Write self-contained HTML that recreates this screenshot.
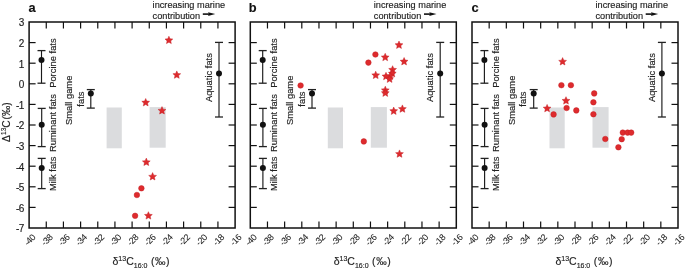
<!DOCTYPE html>
<html><head><meta charset="utf-8"><style>
html,body{margin:0;padding:0;background:#fff;width:685px;height:269px;overflow:hidden}
svg{display:block;font-family:"Liberation Sans",sans-serif;will-change:transform}
text{stroke:#222;stroke-width:0.15px}
</style></head><body>
<svg width="685" height="269" viewBox="0 0 685 269" font-family="Liberation Sans, sans-serif">
<rect width="685" height="269" fill="#fff"/>
<rect x="106.60" y="107.5" width="15.2" height="40.8" fill="#dbdcde"/>
<rect x="149.60" y="107.1" width="16.1" height="40.6" fill="#dbdcde"/>
<rect x="29.1" y="22.0" width="206.0" height="206.0" fill="none" stroke="#111" stroke-width="1.5"/>
<line x1="46.27" y1="228.0" x2="46.27" y2="221.5" stroke="#111" stroke-width="1.2"/>
<line x1="46.27" y1="22.0" x2="46.27" y2="28.5" stroke="#111" stroke-width="1.2"/>
<line x1="63.43" y1="228.0" x2="63.43" y2="221.5" stroke="#111" stroke-width="1.2"/>
<line x1="63.43" y1="22.0" x2="63.43" y2="28.5" stroke="#111" stroke-width="1.2"/>
<line x1="80.60" y1="228.0" x2="80.60" y2="221.5" stroke="#111" stroke-width="1.2"/>
<line x1="80.60" y1="22.0" x2="80.60" y2="28.5" stroke="#111" stroke-width="1.2"/>
<line x1="97.77" y1="228.0" x2="97.77" y2="221.5" stroke="#111" stroke-width="1.2"/>
<line x1="97.77" y1="22.0" x2="97.77" y2="28.5" stroke="#111" stroke-width="1.2"/>
<line x1="114.93" y1="228.0" x2="114.93" y2="221.5" stroke="#111" stroke-width="1.2"/>
<line x1="114.93" y1="22.0" x2="114.93" y2="28.5" stroke="#111" stroke-width="1.2"/>
<line x1="132.10" y1="228.0" x2="132.10" y2="221.5" stroke="#111" stroke-width="1.2"/>
<line x1="132.10" y1="22.0" x2="132.10" y2="28.5" stroke="#111" stroke-width="1.2"/>
<line x1="149.27" y1="228.0" x2="149.27" y2="221.5" stroke="#111" stroke-width="1.2"/>
<line x1="149.27" y1="22.0" x2="149.27" y2="28.5" stroke="#111" stroke-width="1.2"/>
<line x1="166.43" y1="228.0" x2="166.43" y2="221.5" stroke="#111" stroke-width="1.2"/>
<line x1="166.43" y1="22.0" x2="166.43" y2="28.5" stroke="#111" stroke-width="1.2"/>
<line x1="183.60" y1="228.0" x2="183.60" y2="221.5" stroke="#111" stroke-width="1.2"/>
<line x1="183.60" y1="22.0" x2="183.60" y2="28.5" stroke="#111" stroke-width="1.2"/>
<line x1="200.77" y1="228.0" x2="200.77" y2="221.5" stroke="#111" stroke-width="1.2"/>
<line x1="200.77" y1="22.0" x2="200.77" y2="28.5" stroke="#111" stroke-width="1.2"/>
<line x1="217.93" y1="228.0" x2="217.93" y2="221.5" stroke="#111" stroke-width="1.2"/>
<line x1="217.93" y1="22.0" x2="217.93" y2="28.5" stroke="#111" stroke-width="1.2"/>
<line x1="29.1" y1="207.40" x2="35.6" y2="207.40" stroke="#111" stroke-width="1.2"/>
<line x1="235.1" y1="207.40" x2="228.6" y2="207.40" stroke="#111" stroke-width="1.2"/>
<line x1="29.1" y1="186.80" x2="35.6" y2="186.80" stroke="#111" stroke-width="1.2"/>
<line x1="235.1" y1="186.80" x2="228.6" y2="186.80" stroke="#111" stroke-width="1.2"/>
<line x1="29.1" y1="166.20" x2="35.6" y2="166.20" stroke="#111" stroke-width="1.2"/>
<line x1="235.1" y1="166.20" x2="228.6" y2="166.20" stroke="#111" stroke-width="1.2"/>
<line x1="29.1" y1="145.60" x2="35.6" y2="145.60" stroke="#111" stroke-width="1.2"/>
<line x1="235.1" y1="145.60" x2="228.6" y2="145.60" stroke="#111" stroke-width="1.2"/>
<line x1="29.1" y1="125.00" x2="35.6" y2="125.00" stroke="#111" stroke-width="1.2"/>
<line x1="235.1" y1="125.00" x2="228.6" y2="125.00" stroke="#111" stroke-width="1.2"/>
<line x1="29.1" y1="104.40" x2="35.6" y2="104.40" stroke="#111" stroke-width="1.2"/>
<line x1="235.1" y1="104.40" x2="228.6" y2="104.40" stroke="#111" stroke-width="1.2"/>
<line x1="29.1" y1="83.80" x2="35.6" y2="83.80" stroke="#111" stroke-width="1.2"/>
<line x1="235.1" y1="83.80" x2="228.6" y2="83.80" stroke="#111" stroke-width="1.2"/>
<line x1="29.1" y1="63.20" x2="35.6" y2="63.20" stroke="#111" stroke-width="1.2"/>
<line x1="235.1" y1="63.20" x2="228.6" y2="63.20" stroke="#111" stroke-width="1.2"/>
<line x1="29.1" y1="42.60" x2="35.6" y2="42.60" stroke="#111" stroke-width="1.2"/>
<line x1="235.1" y1="42.60" x2="228.6" y2="42.60" stroke="#111" stroke-width="1.2"/>
<text x="0" y="0" transform="translate(29.70,240) rotate(-45)" text-anchor="middle" dominant-baseline="central" font-size="9" letter-spacing="-0.4" style="stroke-width:0.05px" fill="#222">-40</text>
<text x="0" y="0" transform="translate(46.87,240) rotate(-45)" text-anchor="middle" dominant-baseline="central" font-size="9" letter-spacing="-0.4" style="stroke-width:0.05px" fill="#222">-38</text>
<text x="0" y="0" transform="translate(64.03,240) rotate(-45)" text-anchor="middle" dominant-baseline="central" font-size="9" letter-spacing="-0.4" style="stroke-width:0.05px" fill="#222">-36</text>
<text x="0" y="0" transform="translate(81.20,240) rotate(-45)" text-anchor="middle" dominant-baseline="central" font-size="9" letter-spacing="-0.4" style="stroke-width:0.05px" fill="#222">-34</text>
<text x="0" y="0" transform="translate(98.37,240) rotate(-45)" text-anchor="middle" dominant-baseline="central" font-size="9" letter-spacing="-0.4" style="stroke-width:0.05px" fill="#222">-32</text>
<text x="0" y="0" transform="translate(115.53,240) rotate(-45)" text-anchor="middle" dominant-baseline="central" font-size="9" letter-spacing="-0.4" style="stroke-width:0.05px" fill="#222">-30</text>
<text x="0" y="0" transform="translate(132.70,240) rotate(-45)" text-anchor="middle" dominant-baseline="central" font-size="9" letter-spacing="-0.4" style="stroke-width:0.05px" fill="#222">-28</text>
<text x="0" y="0" transform="translate(149.87,240) rotate(-45)" text-anchor="middle" dominant-baseline="central" font-size="9" letter-spacing="-0.4" style="stroke-width:0.05px" fill="#222">-26</text>
<text x="0" y="0" transform="translate(167.03,240) rotate(-45)" text-anchor="middle" dominant-baseline="central" font-size="9" letter-spacing="-0.4" style="stroke-width:0.05px" fill="#222">-24</text>
<text x="0" y="0" transform="translate(184.20,240) rotate(-45)" text-anchor="middle" dominant-baseline="central" font-size="9" letter-spacing="-0.4" style="stroke-width:0.05px" fill="#222">-22</text>
<text x="0" y="0" transform="translate(201.37,240) rotate(-45)" text-anchor="middle" dominant-baseline="central" font-size="9" letter-spacing="-0.4" style="stroke-width:0.05px" fill="#222">-20</text>
<text x="0" y="0" transform="translate(218.53,240) rotate(-45)" text-anchor="middle" dominant-baseline="central" font-size="9" letter-spacing="-0.4" style="stroke-width:0.05px" fill="#222">-18</text>
<text x="0" y="0" transform="translate(235.70,240) rotate(-45)" text-anchor="middle" dominant-baseline="central" font-size="9" letter-spacing="-0.4" style="stroke-width:0.05px" fill="#222">-16</text>
<text x="112.50" y="264.7" font-size="10.5" fill="#222">&#948;<tspan font-size="7" dy="-4.2">13</tspan><tspan dy="4.2">C</tspan><tspan font-size="7" dy="3.5">16:0</tspan><tspan dy="-3.5" letter-spacing="0.6"> (&#8240;)</tspan></text>
<text x="28.6" y="11.6" font-size="12.8" font-weight="bold" fill="#111">a</text>
<text x="152.60" y="7.8" font-size="9.2" fill="#222">increasing marine</text>
<text x="152.60" y="18.6" font-size="9.2" fill="#222">contribution</text>
<line x1="202.80" y1="14.1" x2="209.80" y2="14.1" stroke="#111" stroke-width="1.6"/>
<polygon points="215.30,14.1 208.00,12.2 209.00,14.1 208.00,16" fill="#111"/>
<line x1="41.5" y1="50.6" x2="41.5" y2="83.2" stroke="#1a1a1a" stroke-width="1.15"/><line x1="37.5" y1="50.6" x2="45.5" y2="50.6" stroke="#222" stroke-width="1.3"/><line x1="37.5" y1="83.2" x2="45.5" y2="83.2" stroke="#222" stroke-width="1.3"/><circle cx="41.5" cy="60" r="3.0" fill="#111"/>
<line x1="41.7" y1="108.4" x2="41.7" y2="146.6" stroke="#1a1a1a" stroke-width="1.15"/><line x1="37.7" y1="108.4" x2="45.7" y2="108.4" stroke="#222" stroke-width="1.3"/><line x1="37.7" y1="146.6" x2="45.7" y2="146.6" stroke="#222" stroke-width="1.3"/><circle cx="41.7" cy="124.8" r="3.0" fill="#111"/>
<line x1="41.7" y1="158.4" x2="41.7" y2="188.6" stroke="#1a1a1a" stroke-width="1.15"/><line x1="37.7" y1="158.4" x2="45.7" y2="158.4" stroke="#222" stroke-width="1.3"/><line x1="37.7" y1="188.6" x2="45.7" y2="188.6" stroke="#222" stroke-width="1.3"/><circle cx="41.7" cy="168.1" r="3.0" fill="#111"/>
<line x1="90.8" y1="89.6" x2="90.8" y2="108.1" stroke="#1a1a1a" stroke-width="1.15"/><line x1="86.8" y1="89.6" x2="94.8" y2="89.6" stroke="#222" stroke-width="1.3"/><line x1="86.8" y1="108.1" x2="94.8" y2="108.1" stroke="#222" stroke-width="1.3"/><circle cx="90.8" cy="93.4" r="3.0" fill="#111"/>
<line x1="219.0" y1="42.4" x2="219.0" y2="117" stroke="#1a1a1a" stroke-width="1.15"/><line x1="215.0" y1="42.4" x2="223.0" y2="42.4" stroke="#222" stroke-width="1.3"/><line x1="215.0" y1="117" x2="223.0" y2="117" stroke="#222" stroke-width="1.3"/><circle cx="219.0" cy="73.5" r="3.0" fill="#111"/>
<text x="0" y="0" transform="translate(56.0,63.1) rotate(-90)" text-anchor="middle" font-size="9.4" fill="#222">Porcine fats</text>
<text x="0" y="0" transform="translate(56.0,123) rotate(-90)" text-anchor="middle" font-size="9.4" fill="#222">Ruminant fats</text>
<text x="0" y="0" transform="translate(56.2,173.8) rotate(-90)" text-anchor="middle" font-size="9.4" fill="#222">Milk fats</text>
<text x="0" y="0" transform="translate(71.6,100.35) rotate(-90)" text-anchor="middle" font-size="9.4" fill="#222">Small game</text>
<text x="0" y="0" transform="translate(83.5,99.1) rotate(-90)" text-anchor="middle" font-size="9.4" fill="#222">fats</text>
<text x="0" y="0" transform="translate(211.8,77.6) rotate(-90)" text-anchor="middle" font-size="9.4" fill="#222">Aquatic fats</text>
<polygon points="145.70,98.50 146.83,101.04 149.60,101.33 147.53,103.20 148.11,105.92 145.70,104.53 143.29,105.92 143.87,103.20 141.80,101.33 144.57,101.04" fill="#de2b2d" stroke="#c21d24" stroke-width="0.45" stroke-linejoin="round"/>
<polygon points="162.00,106.60 163.13,109.14 165.90,109.43 163.83,111.30 164.41,114.02 162.00,112.63 159.59,114.02 160.17,111.30 158.10,109.43 160.87,109.14" fill="#de2b2d" stroke="#c21d24" stroke-width="0.45" stroke-linejoin="round"/>
<polygon points="168.90,36.20 170.03,38.74 172.80,39.03 170.73,40.90 171.31,43.62 168.90,42.23 166.49,43.62 167.07,40.90 165.00,39.03 167.77,38.74" fill="#de2b2d" stroke="#c21d24" stroke-width="0.45" stroke-linejoin="round"/>
<polygon points="176.80,70.90 177.93,73.44 180.70,73.73 178.63,75.60 179.21,78.32 176.80,76.93 174.39,78.32 174.97,75.60 172.90,73.73 175.67,73.44" fill="#de2b2d" stroke="#c21d24" stroke-width="0.45" stroke-linejoin="round"/>
<polygon points="146.30,158.10 147.43,160.64 150.20,160.93 148.13,162.80 148.71,165.52 146.30,164.13 143.89,165.52 144.47,162.80 142.40,160.93 145.17,160.64" fill="#de2b2d" stroke="#c21d24" stroke-width="0.45" stroke-linejoin="round"/>
<polygon points="152.60,172.60 153.73,175.14 156.50,175.43 154.43,177.30 155.01,180.02 152.60,178.63 150.19,180.02 150.77,177.30 148.70,175.43 151.47,175.14" fill="#de2b2d" stroke="#c21d24" stroke-width="0.45" stroke-linejoin="round"/>
<circle cx="141.40" cy="188.30" r="2.8" fill="#de2b2d" stroke="#c21d24" stroke-width="0.45"/>
<circle cx="136.90" cy="195.00" r="2.8" fill="#de2b2d" stroke="#c21d24" stroke-width="0.45"/>
<circle cx="135.10" cy="215.80" r="2.8" fill="#de2b2d" stroke="#c21d24" stroke-width="0.45"/>
<polygon points="148.40,211.70 149.53,214.24 152.30,214.53 150.23,216.40 150.81,219.12 148.40,217.73 145.99,219.12 146.57,216.40 144.50,214.53 147.27,214.24" fill="#de2b2d" stroke="#c21d24" stroke-width="0.45" stroke-linejoin="round"/>
<rect x="327.80" y="107.5" width="15.2" height="40.8" fill="#dbdcde"/>
<rect x="370.80" y="107.1" width="16.1" height="40.6" fill="#dbdcde"/>
<rect x="250.3" y="22.0" width="206.0" height="206.0" fill="none" stroke="#111" stroke-width="1.5"/>
<line x1="267.47" y1="228.0" x2="267.47" y2="221.5" stroke="#111" stroke-width="1.2"/>
<line x1="267.47" y1="22.0" x2="267.47" y2="28.5" stroke="#111" stroke-width="1.2"/>
<line x1="284.63" y1="228.0" x2="284.63" y2="221.5" stroke="#111" stroke-width="1.2"/>
<line x1="284.63" y1="22.0" x2="284.63" y2="28.5" stroke="#111" stroke-width="1.2"/>
<line x1="301.80" y1="228.0" x2="301.80" y2="221.5" stroke="#111" stroke-width="1.2"/>
<line x1="301.80" y1="22.0" x2="301.80" y2="28.5" stroke="#111" stroke-width="1.2"/>
<line x1="318.97" y1="228.0" x2="318.97" y2="221.5" stroke="#111" stroke-width="1.2"/>
<line x1="318.97" y1="22.0" x2="318.97" y2="28.5" stroke="#111" stroke-width="1.2"/>
<line x1="336.13" y1="228.0" x2="336.13" y2="221.5" stroke="#111" stroke-width="1.2"/>
<line x1="336.13" y1="22.0" x2="336.13" y2="28.5" stroke="#111" stroke-width="1.2"/>
<line x1="353.30" y1="228.0" x2="353.30" y2="221.5" stroke="#111" stroke-width="1.2"/>
<line x1="353.30" y1="22.0" x2="353.30" y2="28.5" stroke="#111" stroke-width="1.2"/>
<line x1="370.47" y1="228.0" x2="370.47" y2="221.5" stroke="#111" stroke-width="1.2"/>
<line x1="370.47" y1="22.0" x2="370.47" y2="28.5" stroke="#111" stroke-width="1.2"/>
<line x1="387.63" y1="228.0" x2="387.63" y2="221.5" stroke="#111" stroke-width="1.2"/>
<line x1="387.63" y1="22.0" x2="387.63" y2="28.5" stroke="#111" stroke-width="1.2"/>
<line x1="404.80" y1="228.0" x2="404.80" y2="221.5" stroke="#111" stroke-width="1.2"/>
<line x1="404.80" y1="22.0" x2="404.80" y2="28.5" stroke="#111" stroke-width="1.2"/>
<line x1="421.97" y1="228.0" x2="421.97" y2="221.5" stroke="#111" stroke-width="1.2"/>
<line x1="421.97" y1="22.0" x2="421.97" y2="28.5" stroke="#111" stroke-width="1.2"/>
<line x1="439.13" y1="228.0" x2="439.13" y2="221.5" stroke="#111" stroke-width="1.2"/>
<line x1="439.13" y1="22.0" x2="439.13" y2="28.5" stroke="#111" stroke-width="1.2"/>
<line x1="250.3" y1="207.40" x2="256.8" y2="207.40" stroke="#111" stroke-width="1.2"/>
<line x1="456.3" y1="207.40" x2="449.8" y2="207.40" stroke="#111" stroke-width="1.2"/>
<line x1="250.3" y1="186.80" x2="256.8" y2="186.80" stroke="#111" stroke-width="1.2"/>
<line x1="456.3" y1="186.80" x2="449.8" y2="186.80" stroke="#111" stroke-width="1.2"/>
<line x1="250.3" y1="166.20" x2="256.8" y2="166.20" stroke="#111" stroke-width="1.2"/>
<line x1="456.3" y1="166.20" x2="449.8" y2="166.20" stroke="#111" stroke-width="1.2"/>
<line x1="250.3" y1="145.60" x2="256.8" y2="145.60" stroke="#111" stroke-width="1.2"/>
<line x1="456.3" y1="145.60" x2="449.8" y2="145.60" stroke="#111" stroke-width="1.2"/>
<line x1="250.3" y1="125.00" x2="256.8" y2="125.00" stroke="#111" stroke-width="1.2"/>
<line x1="456.3" y1="125.00" x2="449.8" y2="125.00" stroke="#111" stroke-width="1.2"/>
<line x1="250.3" y1="104.40" x2="256.8" y2="104.40" stroke="#111" stroke-width="1.2"/>
<line x1="456.3" y1="104.40" x2="449.8" y2="104.40" stroke="#111" stroke-width="1.2"/>
<line x1="250.3" y1="83.80" x2="256.8" y2="83.80" stroke="#111" stroke-width="1.2"/>
<line x1="456.3" y1="83.80" x2="449.8" y2="83.80" stroke="#111" stroke-width="1.2"/>
<line x1="250.3" y1="63.20" x2="256.8" y2="63.20" stroke="#111" stroke-width="1.2"/>
<line x1="456.3" y1="63.20" x2="449.8" y2="63.20" stroke="#111" stroke-width="1.2"/>
<line x1="250.3" y1="42.60" x2="256.8" y2="42.60" stroke="#111" stroke-width="1.2"/>
<line x1="456.3" y1="42.60" x2="449.8" y2="42.60" stroke="#111" stroke-width="1.2"/>
<text x="0" y="0" transform="translate(250.90,240) rotate(-45)" text-anchor="middle" dominant-baseline="central" font-size="9" letter-spacing="-0.4" style="stroke-width:0.05px" fill="#222">-40</text>
<text x="0" y="0" transform="translate(268.07,240) rotate(-45)" text-anchor="middle" dominant-baseline="central" font-size="9" letter-spacing="-0.4" style="stroke-width:0.05px" fill="#222">-38</text>
<text x="0" y="0" transform="translate(285.23,240) rotate(-45)" text-anchor="middle" dominant-baseline="central" font-size="9" letter-spacing="-0.4" style="stroke-width:0.05px" fill="#222">-36</text>
<text x="0" y="0" transform="translate(302.40,240) rotate(-45)" text-anchor="middle" dominant-baseline="central" font-size="9" letter-spacing="-0.4" style="stroke-width:0.05px" fill="#222">-34</text>
<text x="0" y="0" transform="translate(319.57,240) rotate(-45)" text-anchor="middle" dominant-baseline="central" font-size="9" letter-spacing="-0.4" style="stroke-width:0.05px" fill="#222">-32</text>
<text x="0" y="0" transform="translate(336.73,240) rotate(-45)" text-anchor="middle" dominant-baseline="central" font-size="9" letter-spacing="-0.4" style="stroke-width:0.05px" fill="#222">-30</text>
<text x="0" y="0" transform="translate(353.90,240) rotate(-45)" text-anchor="middle" dominant-baseline="central" font-size="9" letter-spacing="-0.4" style="stroke-width:0.05px" fill="#222">-28</text>
<text x="0" y="0" transform="translate(371.07,240) rotate(-45)" text-anchor="middle" dominant-baseline="central" font-size="9" letter-spacing="-0.4" style="stroke-width:0.05px" fill="#222">-26</text>
<text x="0" y="0" transform="translate(388.23,240) rotate(-45)" text-anchor="middle" dominant-baseline="central" font-size="9" letter-spacing="-0.4" style="stroke-width:0.05px" fill="#222">-24</text>
<text x="0" y="0" transform="translate(405.40,240) rotate(-45)" text-anchor="middle" dominant-baseline="central" font-size="9" letter-spacing="-0.4" style="stroke-width:0.05px" fill="#222">-22</text>
<text x="0" y="0" transform="translate(422.57,240) rotate(-45)" text-anchor="middle" dominant-baseline="central" font-size="9" letter-spacing="-0.4" style="stroke-width:0.05px" fill="#222">-20</text>
<text x="0" y="0" transform="translate(439.73,240) rotate(-45)" text-anchor="middle" dominant-baseline="central" font-size="9" letter-spacing="-0.4" style="stroke-width:0.05px" fill="#222">-18</text>
<text x="0" y="0" transform="translate(456.90,240) rotate(-45)" text-anchor="middle" dominant-baseline="central" font-size="9" letter-spacing="-0.4" style="stroke-width:0.05px" fill="#222">-16</text>
<text x="333.70" y="264.7" font-size="10.5" fill="#222">&#948;<tspan font-size="7" dy="-4.2">13</tspan><tspan dy="4.2">C</tspan><tspan font-size="7" dy="3.5">16:0</tspan><tspan dy="-3.5" letter-spacing="0.6"> (&#8240;)</tspan></text>
<text x="248.8" y="11.6" font-size="12.8" font-weight="bold" fill="#111">b</text>
<text x="373.80" y="7.8" font-size="9.2" fill="#222">increasing marine</text>
<text x="373.80" y="18.6" font-size="9.2" fill="#222">contribution</text>
<line x1="424.00" y1="14.1" x2="431.00" y2="14.1" stroke="#111" stroke-width="1.6"/>
<polygon points="436.50,14.1 429.20,12.2 430.20,14.1 429.20,16" fill="#111"/>
<line x1="262.70000000000005" y1="50.6" x2="262.70000000000005" y2="83.2" stroke="#1a1a1a" stroke-width="1.15"/><line x1="258.70000000000005" y1="50.6" x2="266.70000000000005" y2="50.6" stroke="#222" stroke-width="1.3"/><line x1="258.70000000000005" y1="83.2" x2="266.70000000000005" y2="83.2" stroke="#222" stroke-width="1.3"/><circle cx="262.70000000000005" cy="60" r="3.0" fill="#111"/>
<line x1="262.90000000000003" y1="108.4" x2="262.90000000000003" y2="146.6" stroke="#1a1a1a" stroke-width="1.15"/><line x1="258.90000000000003" y1="108.4" x2="266.90000000000003" y2="108.4" stroke="#222" stroke-width="1.3"/><line x1="258.90000000000003" y1="146.6" x2="266.90000000000003" y2="146.6" stroke="#222" stroke-width="1.3"/><circle cx="262.90000000000003" cy="124.8" r="3.0" fill="#111"/>
<line x1="262.90000000000003" y1="158.4" x2="262.90000000000003" y2="188.6" stroke="#1a1a1a" stroke-width="1.15"/><line x1="258.90000000000003" y1="158.4" x2="266.90000000000003" y2="158.4" stroke="#222" stroke-width="1.3"/><line x1="258.90000000000003" y1="188.6" x2="266.90000000000003" y2="188.6" stroke="#222" stroke-width="1.3"/><circle cx="262.90000000000003" cy="168.1" r="3.0" fill="#111"/>
<line x1="312.0" y1="89.6" x2="312.0" y2="108.1" stroke="#1a1a1a" stroke-width="1.15"/><line x1="308.0" y1="89.6" x2="316.0" y2="89.6" stroke="#222" stroke-width="1.3"/><line x1="308.0" y1="108.1" x2="316.0" y2="108.1" stroke="#222" stroke-width="1.3"/><circle cx="312.0" cy="93.4" r="3.0" fill="#111"/>
<line x1="440.20000000000005" y1="42.4" x2="440.20000000000005" y2="117" stroke="#1a1a1a" stroke-width="1.15"/><line x1="436.20000000000005" y1="42.4" x2="444.20000000000005" y2="42.4" stroke="#222" stroke-width="1.3"/><line x1="436.20000000000005" y1="117" x2="444.20000000000005" y2="117" stroke="#222" stroke-width="1.3"/><circle cx="440.20000000000005" cy="73.5" r="3.0" fill="#111"/>
<text x="0" y="0" transform="translate(277.20000000000005,63.1) rotate(-90)" text-anchor="middle" font-size="9.4" fill="#222">Porcine fats</text>
<text x="0" y="0" transform="translate(277.20000000000005,123) rotate(-90)" text-anchor="middle" font-size="9.4" fill="#222">Ruminant fats</text>
<text x="0" y="0" transform="translate(277.40000000000003,173.8) rotate(-90)" text-anchor="middle" font-size="9.4" fill="#222">Milk fats</text>
<text x="0" y="0" transform="translate(292.8,100.35) rotate(-90)" text-anchor="middle" font-size="9.4" fill="#222">Small game</text>
<text x="0" y="0" transform="translate(304.70000000000005,99.1) rotate(-90)" text-anchor="middle" font-size="9.4" fill="#222">fats</text>
<text x="0" y="0" transform="translate(433.0,77.6) rotate(-90)" text-anchor="middle" font-size="9.4" fill="#222">Aquatic fats</text>
<circle cx="300.60" cy="85.50" r="2.8" fill="#de2b2d" stroke="#c21d24" stroke-width="0.45"/>
<circle cx="375.40" cy="54.50" r="2.8" fill="#de2b2d" stroke="#c21d24" stroke-width="0.45"/>
<circle cx="368.40" cy="62.60" r="2.8" fill="#de2b2d" stroke="#c21d24" stroke-width="0.45"/>
<polygon points="385.20,53.30 386.33,55.84 389.10,56.13 387.03,58.00 387.61,60.72 385.20,59.33 382.79,60.72 383.37,58.00 381.30,56.13 384.07,55.84" fill="#de2b2d" stroke="#c21d24" stroke-width="0.45" stroke-linejoin="round"/>
<polygon points="399.00,41.00 400.13,43.54 402.90,43.83 400.83,45.70 401.41,48.42 399.00,47.03 396.59,48.42 397.17,45.70 395.10,43.83 397.87,43.54" fill="#de2b2d" stroke="#c21d24" stroke-width="0.45" stroke-linejoin="round"/>
<polygon points="404.10,57.50 405.23,60.04 408.00,60.33 405.93,62.20 406.51,64.92 404.10,63.53 401.69,64.92 402.27,62.20 400.20,60.33 402.97,60.04" fill="#de2b2d" stroke="#c21d24" stroke-width="0.45" stroke-linejoin="round"/>
<polygon points="392.60,65.70 393.73,68.24 396.50,68.53 394.43,70.40 395.01,73.12 392.60,71.73 390.19,73.12 390.77,70.40 388.70,68.53 391.47,68.24" fill="#de2b2d" stroke="#c21d24" stroke-width="0.45" stroke-linejoin="round"/>
<polygon points="392.30,69.50 393.43,72.04 396.20,72.33 394.13,74.20 394.71,76.92 392.30,75.53 389.89,76.92 390.47,74.20 388.40,72.33 391.17,72.04" fill="#de2b2d" stroke="#c21d24" stroke-width="0.45" stroke-linejoin="round"/>
<polygon points="390.20,72.10 391.33,74.64 394.10,74.93 392.03,76.80 392.61,79.52 390.20,78.13 387.79,79.52 388.37,76.80 386.30,74.93 389.07,74.64" fill="#de2b2d" stroke="#c21d24" stroke-width="0.45" stroke-linejoin="round"/>
<polygon points="386.00,72.30 387.13,74.84 389.90,75.13 387.83,77.00 388.41,79.72 386.00,78.33 383.59,79.72 384.17,77.00 382.10,75.13 384.87,74.84" fill="#de2b2d" stroke="#c21d24" stroke-width="0.45" stroke-linejoin="round"/>
<polygon points="389.60,75.00 390.73,77.54 393.50,77.83 391.43,79.70 392.01,82.42 389.60,81.03 387.19,82.42 387.77,79.70 385.70,77.83 388.47,77.54" fill="#de2b2d" stroke="#c21d24" stroke-width="0.45" stroke-linejoin="round"/>
<polygon points="375.70,71.20 376.83,73.74 379.60,74.03 377.53,75.90 378.11,78.62 375.70,77.23 373.29,78.62 373.87,75.90 371.80,74.03 374.57,73.74" fill="#de2b2d" stroke="#c21d24" stroke-width="0.45" stroke-linejoin="round"/>
<polygon points="385.30,86.20 386.43,88.74 389.20,89.03 387.13,90.90 387.71,93.62 385.30,92.23 382.89,93.62 383.47,90.90 381.40,89.03 384.17,88.74" fill="#de2b2d" stroke="#c21d24" stroke-width="0.45" stroke-linejoin="round"/>
<polygon points="385.30,89.00 386.43,91.54 389.20,91.83 387.13,93.70 387.71,96.42 385.30,95.03 382.89,96.42 383.47,93.70 381.40,91.83 384.17,91.54" fill="#de2b2d" stroke="#c21d24" stroke-width="0.45" stroke-linejoin="round"/>
<polygon points="393.70,107.00 394.83,109.54 397.60,109.83 395.53,111.70 396.11,114.42 393.70,113.03 391.29,114.42 391.87,111.70 389.80,109.83 392.57,109.54" fill="#de2b2d" stroke="#c21d24" stroke-width="0.45" stroke-linejoin="round"/>
<polygon points="402.40,104.90 403.53,107.44 406.30,107.73 404.23,109.60 404.81,112.32 402.40,110.93 399.99,112.32 400.57,109.60 398.50,107.73 401.27,107.44" fill="#de2b2d" stroke="#c21d24" stroke-width="0.45" stroke-linejoin="round"/>
<polygon points="399.50,149.90 400.63,152.44 403.40,152.73 401.33,154.60 401.91,157.32 399.50,155.93 397.09,157.32 397.67,154.60 395.60,152.73 398.37,152.44" fill="#de2b2d" stroke="#c21d24" stroke-width="0.45" stroke-linejoin="round"/>
<circle cx="363.80" cy="141.40" r="2.8" fill="#de2b2d" stroke="#c21d24" stroke-width="0.45"/>
<rect x="549.50" y="107.5" width="15.2" height="40.8" fill="#dbdcde"/>
<rect x="592.50" y="107.1" width="16.1" height="40.6" fill="#dbdcde"/>
<rect x="472.0" y="22.0" width="206.0" height="206.0" fill="none" stroke="#111" stroke-width="1.5"/>
<line x1="489.17" y1="228.0" x2="489.17" y2="221.5" stroke="#111" stroke-width="1.2"/>
<line x1="489.17" y1="22.0" x2="489.17" y2="28.5" stroke="#111" stroke-width="1.2"/>
<line x1="506.33" y1="228.0" x2="506.33" y2="221.5" stroke="#111" stroke-width="1.2"/>
<line x1="506.33" y1="22.0" x2="506.33" y2="28.5" stroke="#111" stroke-width="1.2"/>
<line x1="523.50" y1="228.0" x2="523.50" y2="221.5" stroke="#111" stroke-width="1.2"/>
<line x1="523.50" y1="22.0" x2="523.50" y2="28.5" stroke="#111" stroke-width="1.2"/>
<line x1="540.67" y1="228.0" x2="540.67" y2="221.5" stroke="#111" stroke-width="1.2"/>
<line x1="540.67" y1="22.0" x2="540.67" y2="28.5" stroke="#111" stroke-width="1.2"/>
<line x1="557.83" y1="228.0" x2="557.83" y2="221.5" stroke="#111" stroke-width="1.2"/>
<line x1="557.83" y1="22.0" x2="557.83" y2="28.5" stroke="#111" stroke-width="1.2"/>
<line x1="575.00" y1="228.0" x2="575.00" y2="221.5" stroke="#111" stroke-width="1.2"/>
<line x1="575.00" y1="22.0" x2="575.00" y2="28.5" stroke="#111" stroke-width="1.2"/>
<line x1="592.17" y1="228.0" x2="592.17" y2="221.5" stroke="#111" stroke-width="1.2"/>
<line x1="592.17" y1="22.0" x2="592.17" y2="28.5" stroke="#111" stroke-width="1.2"/>
<line x1="609.33" y1="228.0" x2="609.33" y2="221.5" stroke="#111" stroke-width="1.2"/>
<line x1="609.33" y1="22.0" x2="609.33" y2="28.5" stroke="#111" stroke-width="1.2"/>
<line x1="626.50" y1="228.0" x2="626.50" y2="221.5" stroke="#111" stroke-width="1.2"/>
<line x1="626.50" y1="22.0" x2="626.50" y2="28.5" stroke="#111" stroke-width="1.2"/>
<line x1="643.67" y1="228.0" x2="643.67" y2="221.5" stroke="#111" stroke-width="1.2"/>
<line x1="643.67" y1="22.0" x2="643.67" y2="28.5" stroke="#111" stroke-width="1.2"/>
<line x1="660.83" y1="228.0" x2="660.83" y2="221.5" stroke="#111" stroke-width="1.2"/>
<line x1="660.83" y1="22.0" x2="660.83" y2="28.5" stroke="#111" stroke-width="1.2"/>
<line x1="472.0" y1="207.40" x2="478.5" y2="207.40" stroke="#111" stroke-width="1.2"/>
<line x1="678.0" y1="207.40" x2="671.5" y2="207.40" stroke="#111" stroke-width="1.2"/>
<line x1="472.0" y1="186.80" x2="478.5" y2="186.80" stroke="#111" stroke-width="1.2"/>
<line x1="678.0" y1="186.80" x2="671.5" y2="186.80" stroke="#111" stroke-width="1.2"/>
<line x1="472.0" y1="166.20" x2="478.5" y2="166.20" stroke="#111" stroke-width="1.2"/>
<line x1="678.0" y1="166.20" x2="671.5" y2="166.20" stroke="#111" stroke-width="1.2"/>
<line x1="472.0" y1="145.60" x2="478.5" y2="145.60" stroke="#111" stroke-width="1.2"/>
<line x1="678.0" y1="145.60" x2="671.5" y2="145.60" stroke="#111" stroke-width="1.2"/>
<line x1="472.0" y1="125.00" x2="478.5" y2="125.00" stroke="#111" stroke-width="1.2"/>
<line x1="678.0" y1="125.00" x2="671.5" y2="125.00" stroke="#111" stroke-width="1.2"/>
<line x1="472.0" y1="104.40" x2="478.5" y2="104.40" stroke="#111" stroke-width="1.2"/>
<line x1="678.0" y1="104.40" x2="671.5" y2="104.40" stroke="#111" stroke-width="1.2"/>
<line x1="472.0" y1="83.80" x2="478.5" y2="83.80" stroke="#111" stroke-width="1.2"/>
<line x1="678.0" y1="83.80" x2="671.5" y2="83.80" stroke="#111" stroke-width="1.2"/>
<line x1="472.0" y1="63.20" x2="478.5" y2="63.20" stroke="#111" stroke-width="1.2"/>
<line x1="678.0" y1="63.20" x2="671.5" y2="63.20" stroke="#111" stroke-width="1.2"/>
<line x1="472.0" y1="42.60" x2="478.5" y2="42.60" stroke="#111" stroke-width="1.2"/>
<line x1="678.0" y1="42.60" x2="671.5" y2="42.60" stroke="#111" stroke-width="1.2"/>
<text x="0" y="0" transform="translate(472.60,240) rotate(-45)" text-anchor="middle" dominant-baseline="central" font-size="9" letter-spacing="-0.4" style="stroke-width:0.05px" fill="#222">-40</text>
<text x="0" y="0" transform="translate(489.77,240) rotate(-45)" text-anchor="middle" dominant-baseline="central" font-size="9" letter-spacing="-0.4" style="stroke-width:0.05px" fill="#222">-38</text>
<text x="0" y="0" transform="translate(506.93,240) rotate(-45)" text-anchor="middle" dominant-baseline="central" font-size="9" letter-spacing="-0.4" style="stroke-width:0.05px" fill="#222">-36</text>
<text x="0" y="0" transform="translate(524.10,240) rotate(-45)" text-anchor="middle" dominant-baseline="central" font-size="9" letter-spacing="-0.4" style="stroke-width:0.05px" fill="#222">-34</text>
<text x="0" y="0" transform="translate(541.27,240) rotate(-45)" text-anchor="middle" dominant-baseline="central" font-size="9" letter-spacing="-0.4" style="stroke-width:0.05px" fill="#222">-32</text>
<text x="0" y="0" transform="translate(558.43,240) rotate(-45)" text-anchor="middle" dominant-baseline="central" font-size="9" letter-spacing="-0.4" style="stroke-width:0.05px" fill="#222">-30</text>
<text x="0" y="0" transform="translate(575.60,240) rotate(-45)" text-anchor="middle" dominant-baseline="central" font-size="9" letter-spacing="-0.4" style="stroke-width:0.05px" fill="#222">-28</text>
<text x="0" y="0" transform="translate(592.77,240) rotate(-45)" text-anchor="middle" dominant-baseline="central" font-size="9" letter-spacing="-0.4" style="stroke-width:0.05px" fill="#222">-26</text>
<text x="0" y="0" transform="translate(609.93,240) rotate(-45)" text-anchor="middle" dominant-baseline="central" font-size="9" letter-spacing="-0.4" style="stroke-width:0.05px" fill="#222">-24</text>
<text x="0" y="0" transform="translate(627.10,240) rotate(-45)" text-anchor="middle" dominant-baseline="central" font-size="9" letter-spacing="-0.4" style="stroke-width:0.05px" fill="#222">-22</text>
<text x="0" y="0" transform="translate(644.27,240) rotate(-45)" text-anchor="middle" dominant-baseline="central" font-size="9" letter-spacing="-0.4" style="stroke-width:0.05px" fill="#222">-20</text>
<text x="0" y="0" transform="translate(661.43,240) rotate(-45)" text-anchor="middle" dominant-baseline="central" font-size="9" letter-spacing="-0.4" style="stroke-width:0.05px" fill="#222">-18</text>
<text x="0" y="0" transform="translate(678.60,240) rotate(-45)" text-anchor="middle" dominant-baseline="central" font-size="9" letter-spacing="-0.4" style="stroke-width:0.05px" fill="#222">-16</text>
<text x="555.40" y="264.7" font-size="10.5" fill="#222">&#948;<tspan font-size="7" dy="-4.2">13</tspan><tspan dy="4.2">C</tspan><tspan font-size="7" dy="3.5">16:0</tspan><tspan dy="-3.5" letter-spacing="0.6"> (&#8240;)</tspan></text>
<text x="471.5" y="11.6" font-size="12.8" font-weight="bold" fill="#111">c</text>
<text x="595.50" y="7.8" font-size="9.2" fill="#222">increasing marine</text>
<text x="595.50" y="18.6" font-size="9.2" fill="#222">contribution</text>
<line x1="645.70" y1="14.1" x2="652.70" y2="14.1" stroke="#111" stroke-width="1.6"/>
<polygon points="658.20,14.1 650.90,12.2 651.90,14.1 650.90,16" fill="#111"/>
<line x1="484.4" y1="50.6" x2="484.4" y2="83.2" stroke="#1a1a1a" stroke-width="1.15"/><line x1="480.4" y1="50.6" x2="488.4" y2="50.6" stroke="#222" stroke-width="1.3"/><line x1="480.4" y1="83.2" x2="488.4" y2="83.2" stroke="#222" stroke-width="1.3"/><circle cx="484.4" cy="60" r="3.0" fill="#111"/>
<line x1="484.59999999999997" y1="108.4" x2="484.59999999999997" y2="146.6" stroke="#1a1a1a" stroke-width="1.15"/><line x1="480.59999999999997" y1="108.4" x2="488.59999999999997" y2="108.4" stroke="#222" stroke-width="1.3"/><line x1="480.59999999999997" y1="146.6" x2="488.59999999999997" y2="146.6" stroke="#222" stroke-width="1.3"/><circle cx="484.59999999999997" cy="124.8" r="3.0" fill="#111"/>
<line x1="484.59999999999997" y1="158.4" x2="484.59999999999997" y2="188.6" stroke="#1a1a1a" stroke-width="1.15"/><line x1="480.59999999999997" y1="158.4" x2="488.59999999999997" y2="158.4" stroke="#222" stroke-width="1.3"/><line x1="480.59999999999997" y1="188.6" x2="488.59999999999997" y2="188.6" stroke="#222" stroke-width="1.3"/><circle cx="484.59999999999997" cy="168.1" r="3.0" fill="#111"/>
<line x1="533.6999999999999" y1="89.6" x2="533.6999999999999" y2="108.1" stroke="#1a1a1a" stroke-width="1.15"/><line x1="529.6999999999999" y1="89.6" x2="537.6999999999999" y2="89.6" stroke="#222" stroke-width="1.3"/><line x1="529.6999999999999" y1="108.1" x2="537.6999999999999" y2="108.1" stroke="#222" stroke-width="1.3"/><circle cx="533.6999999999999" cy="93.4" r="3.0" fill="#111"/>
<line x1="661.9" y1="42.4" x2="661.9" y2="117" stroke="#1a1a1a" stroke-width="1.15"/><line x1="657.9" y1="42.4" x2="665.9" y2="42.4" stroke="#222" stroke-width="1.3"/><line x1="657.9" y1="117" x2="665.9" y2="117" stroke="#222" stroke-width="1.3"/><circle cx="661.9" cy="73.5" r="3.0" fill="#111"/>
<text x="0" y="0" transform="translate(498.9,63.1) rotate(-90)" text-anchor="middle" font-size="9.4" fill="#222">Porcine fats</text>
<text x="0" y="0" transform="translate(498.9,123) rotate(-90)" text-anchor="middle" font-size="9.4" fill="#222">Ruminant fats</text>
<text x="0" y="0" transform="translate(499.09999999999997,173.8) rotate(-90)" text-anchor="middle" font-size="9.4" fill="#222">Milk fats</text>
<text x="0" y="0" transform="translate(514.5,100.35) rotate(-90)" text-anchor="middle" font-size="9.4" fill="#222">Small game</text>
<text x="0" y="0" transform="translate(526.4,99.1) rotate(-90)" text-anchor="middle" font-size="9.4" fill="#222">fats</text>
<text x="0" y="0" transform="translate(654.7,77.6) rotate(-90)" text-anchor="middle" font-size="9.4" fill="#222">Aquatic fats</text>
<polygon points="562.60,57.60 563.73,60.14 566.50,60.43 564.43,62.30 565.01,65.02 562.60,63.63 560.19,65.02 560.77,62.30 558.70,60.43 561.47,60.14" fill="#de2b2d" stroke="#c21d24" stroke-width="0.45" stroke-linejoin="round"/>
<circle cx="561.40" cy="85.20" r="2.8" fill="#de2b2d" stroke="#c21d24" stroke-width="0.45"/>
<circle cx="570.90" cy="85.20" r="2.8" fill="#de2b2d" stroke="#c21d24" stroke-width="0.45"/>
<polygon points="566.00,96.70 567.13,99.24 569.90,99.53 567.83,101.40 568.41,104.12 566.00,102.73 563.59,104.12 564.17,101.40 562.10,99.53 564.87,99.24" fill="#de2b2d" stroke="#c21d24" stroke-width="0.45" stroke-linejoin="round"/>
<polygon points="547.10,104.40 548.23,106.94 551.00,107.23 548.93,109.10 549.51,111.82 547.10,110.43 544.69,111.82 545.27,109.10 543.20,107.23 545.97,106.94" fill="#de2b2d" stroke="#c21d24" stroke-width="0.45" stroke-linejoin="round"/>
<circle cx="553.60" cy="114.40" r="2.8" fill="#de2b2d" stroke="#c21d24" stroke-width="0.45"/>
<circle cx="566.60" cy="108.00" r="2.8" fill="#de2b2d" stroke="#c21d24" stroke-width="0.45"/>
<circle cx="576.30" cy="110.40" r="2.8" fill="#de2b2d" stroke="#c21d24" stroke-width="0.45"/>
<circle cx="594.20" cy="93.40" r="2.8" fill="#de2b2d" stroke="#c21d24" stroke-width="0.45"/>
<circle cx="593.40" cy="102.30" r="2.8" fill="#de2b2d" stroke="#c21d24" stroke-width="0.45"/>
<circle cx="593.40" cy="114.30" r="2.8" fill="#de2b2d" stroke="#c21d24" stroke-width="0.45"/>
<circle cx="605.30" cy="139.00" r="2.8" fill="#de2b2d" stroke="#c21d24" stroke-width="0.45"/>
<circle cx="622.80" cy="132.60" r="2.8" fill="#de2b2d" stroke="#c21d24" stroke-width="0.45"/>
<circle cx="627.60" cy="132.60" r="2.8" fill="#de2b2d" stroke="#c21d24" stroke-width="0.45"/>
<circle cx="631.20" cy="132.60" r="2.8" fill="#de2b2d" stroke="#c21d24" stroke-width="0.45"/>
<circle cx="621.70" cy="139.20" r="2.8" fill="#de2b2d" stroke="#c21d24" stroke-width="0.45"/>
<circle cx="618.40" cy="147.30" r="2.8" fill="#de2b2d" stroke="#c21d24" stroke-width="0.45"/>
<text x="24.2" y="232.40" text-anchor="end" font-size="10" fill="#222"><tspan letter-spacing="-0.6">-</tspan>7</text>
<text x="24.2" y="211.80" text-anchor="end" font-size="10" fill="#222"><tspan letter-spacing="-0.6">-</tspan>6</text>
<text x="24.2" y="191.20" text-anchor="end" font-size="10" fill="#222"><tspan letter-spacing="-0.6">-</tspan>5</text>
<text x="24.2" y="170.60" text-anchor="end" font-size="10" fill="#222"><tspan letter-spacing="-0.6">-</tspan>4</text>
<text x="24.2" y="150.00" text-anchor="end" font-size="10" fill="#222"><tspan letter-spacing="-0.6">-</tspan>3</text>
<text x="24.2" y="129.40" text-anchor="end" font-size="10" fill="#222"><tspan letter-spacing="-0.6">-</tspan>2</text>
<text x="24.2" y="108.80" text-anchor="end" font-size="10" fill="#222"><tspan letter-spacing="-0.6">-</tspan>1</text>
<text x="24.2" y="88.20" text-anchor="end" font-size="10" fill="#222">0</text>
<text x="24.2" y="67.60" text-anchor="end" font-size="10" fill="#222">1</text>
<text x="24.2" y="47.00" text-anchor="end" font-size="10" fill="#222">2</text>
<text x="24.2" y="26.40" text-anchor="end" font-size="10" fill="#222">3</text>
<text x="0" y="0" transform="translate(10.2,122.1) rotate(-90)" text-anchor="middle" font-size="10.3" fill="#222">&#916;<tspan font-size="6.6" dy="-4.2">13</tspan><tspan dy="4.2">C</tspan><tspan dx="0.8">(&#8240;)</tspan></text>
</svg>
</body></html>
